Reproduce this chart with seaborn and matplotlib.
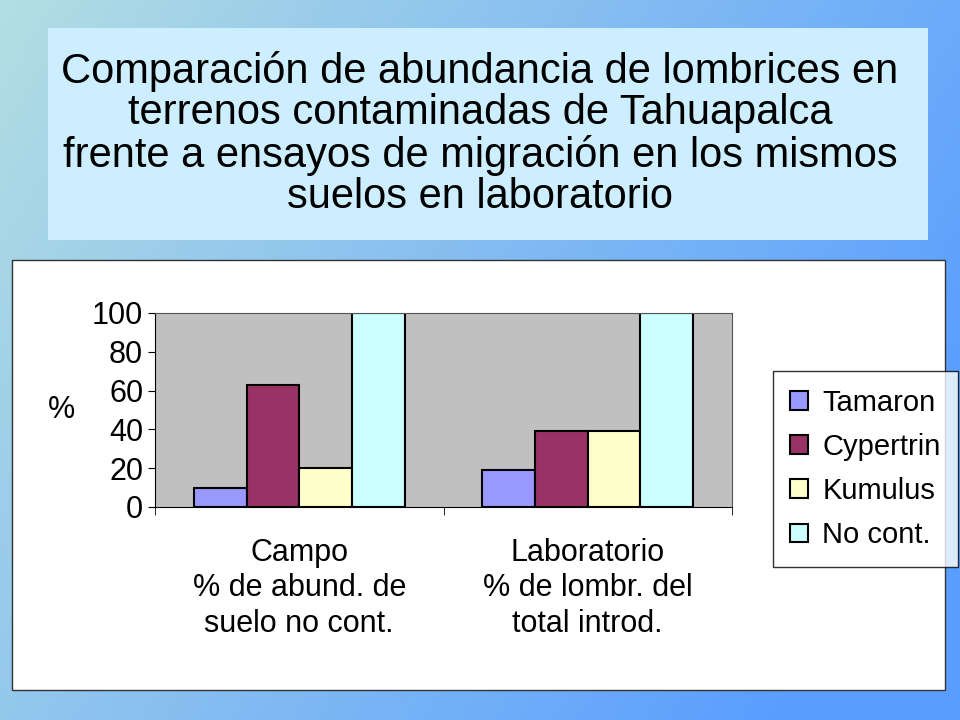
import numpy as np
import pandas as pd
import matplotlib.pyplot as plt
from matplotlib.patches import Rectangle
import seaborn as sns

plt.rcParams['font.family'] = 'Liberation Sans'

# Chart data
categories = ['Campo\n% de abund. de\nsuelo no cont.',
              'Laboratorio\n% de lombr. del\ntotal introd.']
series = ['Tamaron', 'Cypertrin', 'Kumulus', 'No cont.']
campo_values = [10, 63, 20, 100]
lab_values = [19, 39, 39, 100]
y_ticks = [0, 20, 40, 60, 80, 100]
colors = ['#9999FF', '#993366', '#FFFFCC', '#CCFFFF']

df = pd.DataFrame({
    'cat': [categories[0]] * 4 + [categories[1]] * 4,
    'serie': series * 2,
    'val': campo_values + lab_values,
})

fig = plt.figure(figsize=(9.6, 7.2), dpi=100)

# Slide background gradient
bg = fig.add_axes([0, 0, 1, 1], zorder=-10)
xx, yy = np.meshgrid(np.linspace(0, 1, 200), np.linspace(0, 1, 150))
t = np.clip(0.8 * xx + 0.35 * yy, 0, 1)
c0 = np.array([0.70, 0.87, 0.89])
c1 = np.array([0.35, 0.62, 1.0])
img = c0[None, None, :] * (1 - t[..., None]) + c1[None, None, :] * t[..., None]
bg.imshow(img, aspect='auto', extent=[0, 1, 0, 1], origin='upper')
bg.set_axis_off()

# Title box
fig.patches.append(Rectangle((48 / 960, 1 - 240 / 720), 880 / 960, 212 / 720,
                             transform=fig.transFigure, facecolor='#CCEEFF',
                             edgecolor='none', zorder=-5))
fig.text(0.5, 1 - 134 / 720,
         'Comparación de abundancia de lombrices en\nterrenos contaminadas de Tahuapalca\n'
         'frente a ensayos de migración en los mismos\nsuelos en laboratorio',
         ha='center', va='center', fontsize=30, linespacing=1.05)

# White chart area
fig.patches.append(Rectangle((12 / 960, 1 - 690 / 720), 933 / 960, 430 / 720,
                             transform=fig.transFigure, facecolor='white',
                             edgecolor='#333333', lw=1, zorder=-5))

ax = fig.add_axes([155 / 960, 1 - 507 / 720, 577 / 960, 194 / 720])
ax.set_facecolor('#C0C0C0')
sns.barplot(data=df, x='cat', y='val', hue='serie', palette=colors,
            width=0.73, edgecolor='black', linewidth=1.5, saturation=1,
            ax=ax)
ax.set_xlim(-0.5, 1.5)
ax.set_ylim(0, 100)
ax.set_yticks(y_ticks)
ax.tick_params(axis='y', labelsize=22, direction='out', length=5)
ax.tick_params(axis='x', which='major', length=0, labelsize=22, pad=22)
ax.set_xticks([-0.5, 0.5, 1.5], minor=True)
ax.tick_params(axis='x', which='minor', length=6)
for lbl in ax.get_xticklabels():
    lbl.set_linespacing(1.25)
ax.set_xlabel('')
ax.set_ylabel('%', fontsize=22, rotation=0, labelpad=22, va='center')
for s in ax.spines.values():
    s.set_color('#555555')
ax.spines['left'].set_color('black')
ax.spines['bottom'].set_color('black')

leg = ax.legend(loc='center left', bbox_to_anchor=(758 / 960, 1 - 469 / 720),
                bbox_transform=fig.transFigure, fontsize=21, frameon=True,
                fancybox=False, edgecolor='black', handlelength=0.6,
                handleheight=0.6, handletextpad=0.5, labelspacing=0.55,
                borderpad=0.6)
leg.get_frame().set_linewidth(1)

fig.savefig('out.png', dpi=100)
